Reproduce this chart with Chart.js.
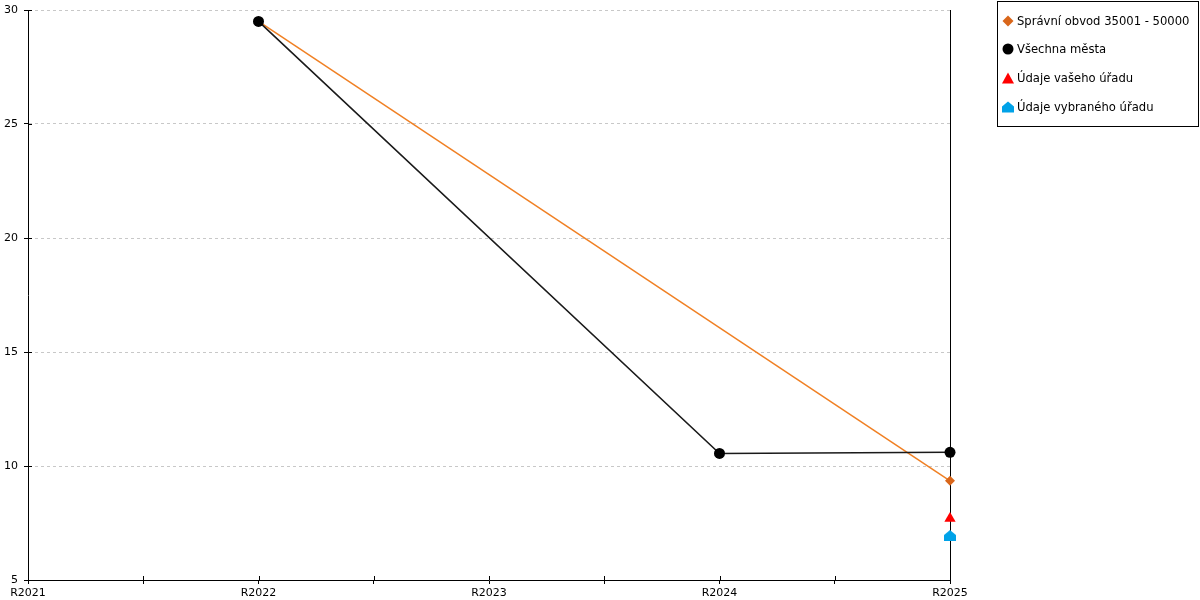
<!DOCTYPE html>
<html>
<head>
<meta charset="utf-8">
<script src="https://cdn.jsdelivr.net/npm/chart.js@4"></script>
<style>
  html, body { margin: 0; padding: 0; background: #fff; }
  #wrap { position: relative; width: 1200px; height: 600px; }
  #legend { position: absolute; left: 997px; top: 1px; width: 202px; height: 126px;
    border: 1px solid #000; box-sizing: border-box; font-family: "DejaVu Sans", sans-serif; font-size: 11.6px; color: #000; }
  .item { position: absolute; left: 4px; height: 14px; line-height: 14px; white-space: nowrap; }
  .item svg { position: absolute; left: 0; top: 1px; }
  .item span { position: absolute; left: 15px; top: 0; }
</style>
</head>
<body>
<div id="wrap">
  <canvas id="c" width="1200" height="600"></canvas>
  <div id="legend"></div>
</div>
<script>
const categories = ['R2021', 'R2022', 'R2023', 'R2024', 'R2025'];
const seriesNames = ['Správní obvod 35001 - 50000', 'Všechna města', 'Údaje vašeho úřadu', 'Údaje vybraného úřadu'];
const spravniObvod = [null, 29.5, null, null, 9.35];
const vsechnaMesta = [null, 29.5, null, 10.55, 10.6];
const vasUrad = [null, null, null, null, 7.7];
const vybranyUrad = [null, null, null, null, 6.95];
const yTicks = [5, 10, 15, 20, 25, 30];

const toPoints = vals => vals.map((v, i) => ({ x: i, y: v })).filter(p => p.y !== null);

function houseCanvas(color) {
  const c = document.createElement('canvas');
  c.width = 12; c.height = 11;
  const g = c.getContext('2d');
  g.fillStyle = color;
  g.beginPath();
  g.moveTo(6, 0); g.lineTo(12, 5); g.lineTo(12, 11); g.lineTo(0, 11); g.lineTo(0, 5);
  g.closePath(); g.fill();
  return c;
}

const crossTicks = {
  id: 'crossTicks',
  beforeDatasetsDraw(chart) {
    const { ctx, chartArea: a, scales } = chart;
    ctx.save();
    ctx.strokeStyle = '#000';
    ctx.lineWidth = 1;
    ctx.beginPath();
    ctx.moveTo(Math.round(a.right) + 0.5, a.top);
    ctx.lineTo(Math.round(a.right) + 0.5, a.bottom);
    scales.x.ticks.forEach(t => {
      const px = Math.round(scales.x.getPixelForValue(t.value)) + 0.5;
      if (t.value > 0 && t.value < 4) {
        ctx.moveTo(px, a.bottom - 4); ctx.lineTo(px, a.bottom);
      }
    });
    scales.y.ticks.forEach(t => {
      const py = Math.round(scales.y.getPixelForValue(t.value)) + 0.5;
      ctx.moveTo(a.left, py); ctx.lineTo(a.left + 4, py);
    });
    ctx.stroke();
    ctx.restore();
  }
};

const font = { family: '"DejaVu Sans", sans-serif', size: 11 };

new Chart(document.getElementById('c'), {
  type: 'line',
  data: {
    datasets: [
      { label: seriesNames[0], data: toPoints(spravniObvod), borderColor: '#f08024', backgroundColor: '#d9661a',
        borderWidth: 1.5, pointStyle: 'rectRot', pointRadius: 5, pointBorderWidth: 0, spanGaps: true, order: 2, clip: false },
      { label: seriesNames[1], data: toPoints(vsechnaMesta), borderColor: '#1a1a1a', backgroundColor: '#000',
        borderWidth: 1.6, pointStyle: 'circle', pointRadius: 5.5, pointBorderWidth: 0, spanGaps: true, order: 1, clip: false },
      { label: seriesNames[2], data: toPoints(vasUrad), borderColor: '#ff0000', backgroundColor: '#ff0000',
        showLine: false, pointStyle: 'triangle', pointRadius: 6.5, pointBorderWidth: 0, order: 0, clip: false },
      { label: seriesNames[3], data: toPoints(vybranyUrad), borderColor: '#00a2e8', backgroundColor: '#00a2e8',
        showLine: false, pointStyle: houseCanvas('#00a2e8'), order: 0, clip: false }
    ]
  },
  options: {
    responsive: false,
    animation: false,
    layout: { padding: { top: 10, right: 250, left: 0, bottom: 0 } },
    plugins: { legend: { display: false }, tooltip: { enabled: false } },
    elements: { line: { tension: 0 } },
    scales: {
      x: {
        type: 'linear', min: 0, max: 4,
        afterFit: s => { s.height = 20; s.paddingLeft = 0; s.paddingRight = 0; },
        ticks: {
          stepSize: 0.5, autoSkip: false, maxRotation: 0, padding: 3, color: '#000', font,
          callback: v => Number.isInteger(v) ? categories[v] : ''
        },
        grid: { drawOnChartArea: false, tickLength: 4, tickColor: '#000' },
        border: { color: '#000', width: 1 }
      },
      y: {
        min: 5, max: 30,
        afterFit: s => { s.width = 28; s.paddingTop = 0; s.paddingBottom = 0; },
        afterBuildTicks: s => { s.ticks = yTicks.map(v => ({ value: v })); },
        ticks: { stepSize: 5, padding: 6, color: '#000', font },
        grid: { color: '#c8c8c8', tickLength: 4, tickColor: '#000' },
        border: { color: '#000', width: 1, dash: [3, 3] }
      }
    }
  },
  plugins: [crossTicks]
});

const legendSymbols = [
  '<svg width="12" height="12"><polygon points="6,0.5 11.5,6 6,11.5 0.5,6" fill="#d9661a"/></svg>',
  '<svg width="12" height="12"><circle cx="6" cy="6" r="5.5" fill="#000"/></svg>',
  '<svg width="12" height="12"><polygon points="6,0.5 12,11.5 0,11.5" fill="#ff0000"/></svg>',
  '<svg width="12" height="12"><polygon points="6,0.5 12,5.5 12,11.5 0,11.5 0,5.5" fill="#00a2e8"/></svg>'
];
const legendTops = [12, 40, 69, 98];
document.getElementById('legend').innerHTML = seriesNames.map((n, i) =>
  `<div class="item" style="top:${legendTops[i]}px">${legendSymbols[i]}<span>${n}</span></div>`).join('');
</script>
</body>
</html>
